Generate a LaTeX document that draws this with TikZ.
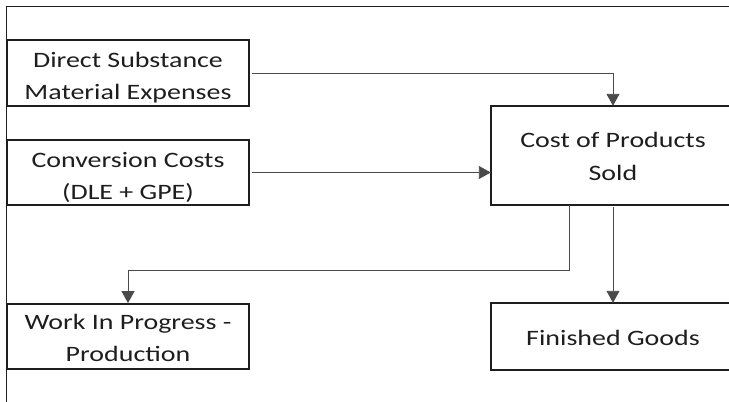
\documentclass[tikz,border=0pt]{standalone}
\usepackage{fontspec}
\setmainfont{Carlito}[FakeStretch=1.27]
\usetikzlibrary{arrows.meta}
\definecolor{ink}{HTML}{1E1E1E}
\definecolor{wire}{HTML}{4A4A4A}
\tikzset{
  box/.style={draw=ink, line width=1.8pt, inner sep=0pt},
  openbox/.style={inner sep=0pt},
  caption/.style={text=ink, align=center, inner sep=0pt,
    font=\fontsize{22}{32.5}\selectfont},
  edge/.style={draw=ink, line width=1.8pt},
  flow/.style={draw=wire, line width=0.9pt, -{Triangle[length=12pt,width=13pt]}},
}
\begin{document}
\begin{tikzpicture}[x=1pt,y=-1pt]
  \useasboundingbox (0,0) rectangle (729,402);
  % outer frame
  \draw[ink, line width=1pt] (6,402) -- (6,6) -- (729,6);
  % boxes
  \node[box, minimum width=242pt, minimum height=66pt] (dsme) at (128,73) {};
  \node[box, minimum width=242pt, minimum height=65pt] (conv) at (128,172.5) {};
  \node[openbox, minimum width=244pt, minimum height=99pt] (cost) at (613,155.5) {};
  \node[box, minimum width=242pt, minimum height=65pt] (wip) at (128,336.5) {};
  \node[openbox, minimum width=244pt, minimum height=67pt] (fg) at (613,336.5) {};
  % the two right-hand boxes run out at the right margin
  \coordinate (rim) at (729,0);
  \draw[edge] (cost.north -| rim) -- (cost.north west) -- (cost.south west) -- (cost.south -| rim);
  \draw[edge] (fg.north -| rim) -- (fg.north west) -- (fg.south west) -- (fg.south -| rim);
  % box texts, set a little below the box centres
  \node[caption] (dsme-t) at ([yshift=-4.5pt]dsme.center) {Direct Substance\\Material Expenses};
  \node[caption] (conv-t) at ([yshift=-5pt]conv.center) {Conversion Costs\\(DLE + GPE)};
  \node[caption] (cost-t) at ([yshift=-1pt]cost.center) {Cost of Products\\Sold};
  \node[caption] (wip-t) at ([yshift=-1.5pt]wip.center) {Work In Progress -\\Production};
  \node[caption] (fg-t) at ([yshift=-1.5pt]fg.center) {Finished Goods};
  % connectors
  \coordinate (split) at (569,270);
  \draw[flow, shorten <=2pt] (dsme.east) -| (cost.north);
  \draw[flow, shorten <=2pt] (conv.east) -- (cost.west |- conv.east);
  \draw[flow] (cost.south -| split) -- (split) -| (wip.north);
  \draw[flow, shorten <=2pt] (cost.south) -- (fg.north);
\end{tikzpicture}
\end{document}
